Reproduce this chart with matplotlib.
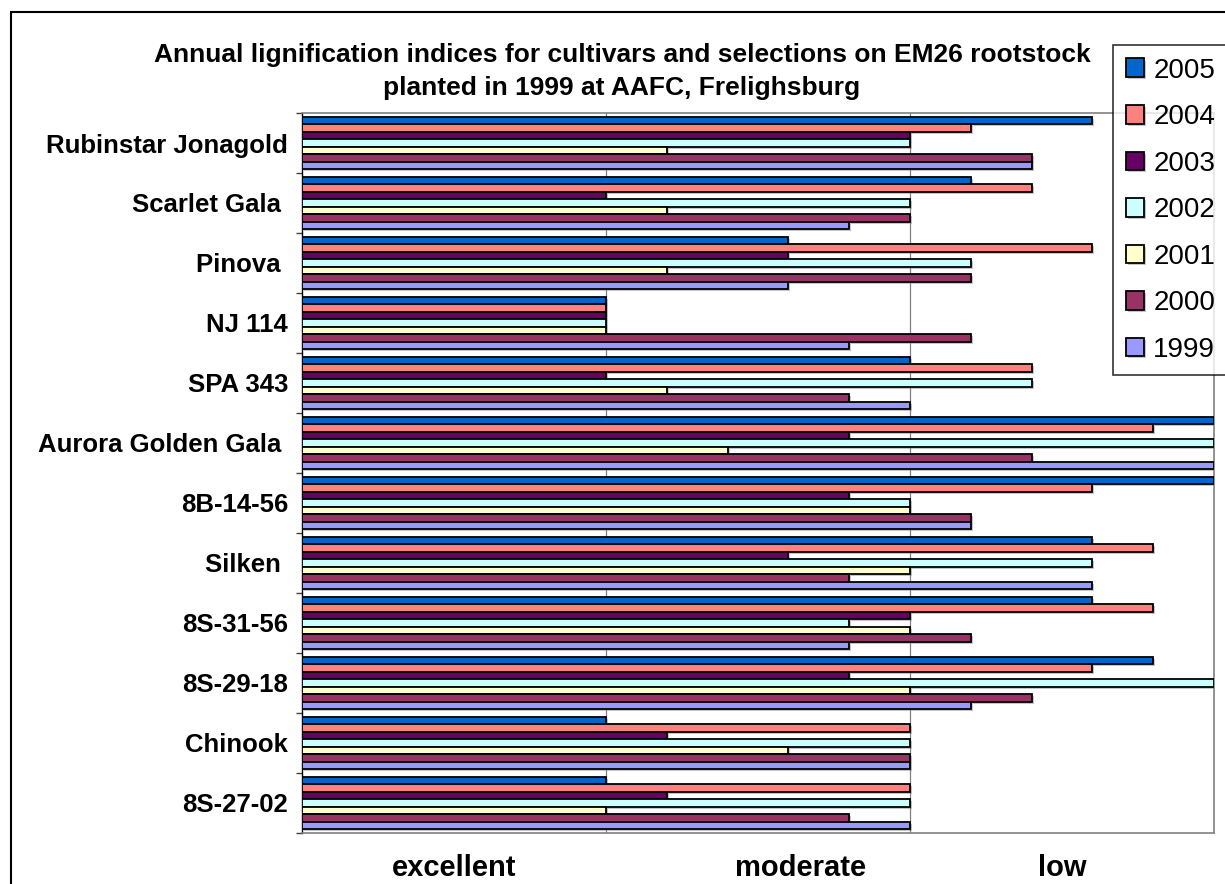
import matplotlib
matplotlib.use("Agg")
import matplotlib.pyplot as plt
import matplotlib.patheffects as pe
from matplotlib.patches import Rectangle
import numpy as np

plt.rcParams["font.family"] = ["Liberation Sans", "DejaVu Sans"]

# Cultivars / selections, top to bottom
cultivars = ["Rubinstar Jonagold", "Scarlet Gala ", "Pinova ", "NJ 114", "SPA 343",
             "Aurora Golden Gala ", "8B-14-56", "Silken ", "8S-31-56", "8S-29-18",
             "Chinook", "8S-27-02"]

years = ["2005", "2004", "2003", "2002", "2001", "2000", "1999"]

# Lignification index per year (0 = best ... 3 = worst)
v2005 = [2.6, 2.2, 1.6, 1.0, 2.0, 3.0, 3.0, 2.6, 2.6, 2.8, 1.0, 1.0]
v2004 = [2.2, 2.4, 2.6, 1.0, 2.4, 2.8, 2.6, 2.8, 2.8, 2.6, 2.0, 2.0]
v2003 = [2.0, 1.0, 1.6, 1.0, 1.0, 1.8, 1.8, 1.6, 2.0, 1.8, 1.2, 1.2]
v2002 = [2.0, 2.0, 2.2, 1.0, 2.4, 3.0, 2.0, 2.6, 1.8, 3.0, 2.0, 2.0]
v2001 = [1.2, 1.2, 1.2, 1.0, 1.2, 1.4, 2.0, 2.0, 2.0, 2.0, 1.6, 1.0]
v2000 = [2.4, 2.0, 2.2, 2.2, 1.8, 2.4, 2.2, 1.8, 2.2, 2.4, 2.0, 1.8]
v1999 = [2.4, 1.8, 1.6, 1.8, 2.0, 3.0, 2.2, 2.6, 1.8, 2.2, 2.0, 2.0]

series = [v2005, v2004, v2003, v2002, v2001, v2000, v1999]
colors = ["#0066CC", "#FF8080", "#660066", "#CCFFFF", "#FFFFCC", "#993366", "#9999FF"]

rating_labels = ["excellent", "moderate", "low"]
rating_pos = [0.5, 1.64, 2.5]

W, H = 1225, 884
fig = plt.figure(figsize=(W / 100, H / 100), dpi=100)
fig.patch.set_facecolor("white")

# chart-area frame
fig.patches.append(Rectangle((11 / W, -0.1), 1.2, 1 - 12 / H + 0.1,
                             transform=fig.transFigure, fill=False,
                             edgecolor="black", linewidth=1.5))

left, right, top, bottom = 302, 1214, 113, 833
ax = fig.add_axes([left / W, 1 - bottom / H, (right - left) / W, (bottom - top) / H])

n_cat = len(cultivars)
n_ser = len(series)
bar_h = 1.0 / 8.0
y = np.arange(n_cat)
shadow = [pe.SimplePatchShadow(offset=(1.5, -1.5), shadow_rgbFace="#808080", alpha=0.45),
          pe.Normal()]

for i, (vals, col, yr) in enumerate(zip(series, colors, years)):
    offs = (i - (n_ser - 1) / 2) * bar_h
    bars = ax.barh(y + offs, vals, height=bar_h, color=col, edgecolor="black",
                   linewidth=1.3, label=yr, zorder=3)
    for b in bars:
        b.set_path_effects(shadow)

ax.set_xlim(0, 3)
ax.set_ylim(n_cat - 0.5, -0.5)

ax.set_xticks([1, 2])
ax.tick_params(axis="x", length=0, labelbottom=False)
ax.grid(axis="x", color="#808080", linewidth=0.9, zorder=0)

ax.set_yticks(y)
ax.set_yticklabels(cultivars, fontsize=18.5, fontweight="bold")
ax.tick_params(axis="y", which="major", length=0, pad=10)
ax.set_yticks(np.arange(n_cat + 1) - 0.5, minor=True)
ax.tick_params(axis="y", which="minor", length=4, width=1, color="#404040", direction="out")

for s in ["top", "right", "bottom"]:
    ax.spines[s].set_color("#808080")
    ax.spines[s].set_linewidth(1.2)
ax.spines["left"].set_color("#000000")
ax.spines["left"].set_linewidth(1.0)

# rating words under the index axis
for lab, xp in zip(rating_labels, rating_pos):
    ax.annotate(lab, xy=(xp, 0), xycoords=("data", "axes fraction"),
                xytext=(0, -25), textcoords="offset points",
                ha="center", va="center", fontsize=21, fontweight="bold",
                annotation_clip=False)

fig.text(622 / W, 1 - 55 / H, "Annual lignification indices for cultivars and selections on EM26 rootstock",
         ha="center", va="center", fontsize=19, fontweight="bold")
fig.text(622 / W, 1 - 88 / H, "planted in 1999 at AAFC, Frelighsburg",
         ha="center", va="center", fontsize=19, fontweight="bold")

leg = fig.legend(loc="upper left", bbox_to_anchor=(1113 / W, 1 - 45 / H),
                 fontsize=20, frameon=True, fancybox=False, edgecolor="black",
                 handlelength=0.65, handleheight=0.65, handletextpad=0.35,
                 labelspacing=0.74, borderpad=0.45, borderaxespad=0)
leg.get_frame().set_linewidth(1.2)

fig.savefig("out.png", dpi=100)
